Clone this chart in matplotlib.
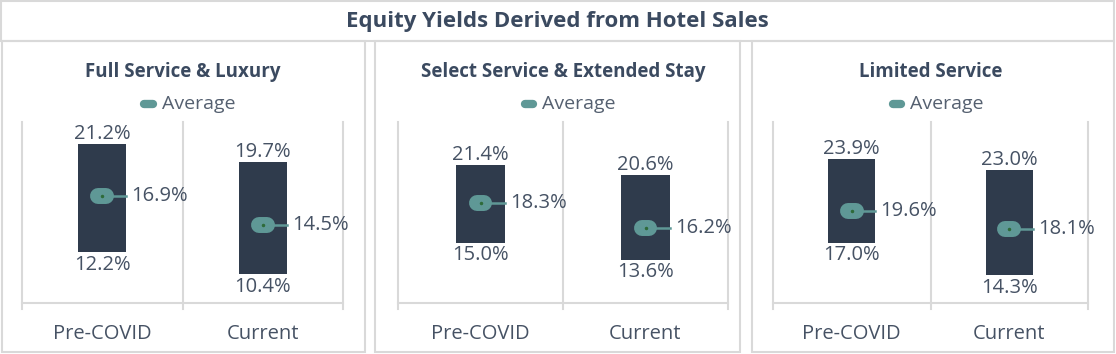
import matplotlib.pyplot as plt
from matplotlib.patches import Rectangle

plt.rcParams['font.family'] = ['Open Sans', 'DejaVu Sans']

categories = ["Pre-COVID", "Current"]
segments = ["Full Service & Luxury", "Select Service & Extended Stay", "Limited Service"]
yield_high = [[21.2, 19.7], [21.4, 20.6], [23.9, 23.0]]
yield_low = [[12.2, 10.4], [15.0, 13.6], [17.0, 14.3]]
yield_avg = [[16.9, 14.5], [18.3, 16.2], [19.6, 18.1]]
y_ranges = [(8, 23), (10, 25), (12, 27)]

W, H = 1116, 354
BAR = "#2f3b4c"
TEAL = "#5f9896"
GRID = "#d9d9d9"
TITLE_C = "#3b4a60"
LABEL_C = "#465264"

fig = plt.figure(figsize=(W / 100, H / 100), dpi=100)


def box(x0, y0, x1, y1):
    fig.add_artist(Rectangle((x0 / W, 1 - y1 / H), (x1 - x0) / W, (y1 - y0) / H,
                             transform=fig.transFigure, fill=False,
                             edgecolor=GRID, lw=1.5))


box(1, 1, 1114, 41)
panels = [(2, 365), (375, 740), (752, 1114)]
for x0, x1 in panels:
    box(x0, 41, x1, 352)

fig.text(557 / W, 1 - 21 / H, "Equity Yields Derived from Hotel Sales",
         ha="center", va="center", fontsize=16, fontweight="bold", color=TITLE_C)

axes_px = [(22, 343), (398, 728), (773, 1088)]
top_px, bot_px = 122, 303

for i, (ax0, ax1) in enumerate(axes_px):
    ax = fig.add_axes([ax0 / W, 1 - bot_px / H, (ax1 - ax0) / W, (bot_px - top_px) / H])
    lo, hi = y_ranges[i]
    ax.set_xlim(-0.5, 1.5)
    ax.set_ylim(lo, hi)
    ax.axis("off")
    cx = (ax0 + ax1) / 2
    px_per_unit = (bot_px - top_px) / (hi - lo)

    # panel title and legend
    fig.text(cx / W, 1 - 72 / H, segments[i], ha="center", va="center",
             fontsize=13.5, fontweight="bold", color=TITLE_C)
    fig.text((cx - 21) / W, 1 - 104 / H, "Average", ha="left", va="center",
             fontsize=14, color="#556070")
    fig.add_artist(plt.Line2D([(cx - 38) / W, (cx - 30) / W], [1 - 104 / H] * 2,
                              transform=fig.transFigure, color=TEAL, lw=6,
                              solid_capstyle="round"))

    # grid frame
    for gx in (-0.5, 0.5, 1.5):
        ax.axvline(gx, ymin=-6 / (bot_px - top_px), ymax=1, color=GRID, lw=1.5,
                   clip_on=False, zorder=0)
    ax.plot([-0.5, 1.5], [lo, lo], color=GRID, lw=1.5, clip_on=False, zorder=0)

    for j, cat in enumerate(categories):
        h, l, a = yield_high[i][j], yield_low[i][j], yield_avg[i][j]
        ax.bar(j, h - l, bottom=l, width=0.3, color=BAR, zorder=2)
        ax.plot([j, j + 0.15], [a, a], color=TEAL, lw=1.8, zorder=3)
        ax.plot([j - 0.024, j + 0.024], [a, a], color=TEAL, lw=11.5,
                solid_capstyle="round", zorder=4)
        ax.plot(j, a, marker="o", ms=1.5, color="#2e6b3a", zorder=5)
        ax.annotate(f"{h:.1f}%", (j, h), xytext=(0, 0), textcoords="offset points",
                    ha="center", va="bottom", fontsize=14.5, color=LABEL_C)
        ax.annotate(f"{l:.1f}%", (j, l), xytext=(0, -2), textcoords="offset points",
                    ha="center", va="top", fontsize=14.5, color=LABEL_C)
        ax.annotate(f"{a:.1f}%", (j + 0.15, a), xytext=(3.5, 0), textcoords="offset points",
                    ha="left", va="center", fontsize=14.5, color=LABEL_C)
        ax.text(j, lo - 31 / px_per_unit, cat, ha="center", va="center",
                fontsize=14.5, color=LABEL_C, clip_on=False)

fig.savefig("out.png", dpi=100)
